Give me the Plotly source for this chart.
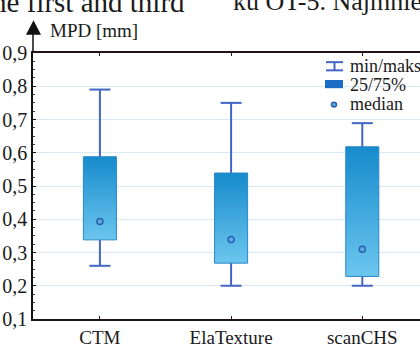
import plotly.graph_objects as go

categories = ["CTM", "ElaTexture", "scanCHS"]
v_min = [0.26, 0.20, 0.20]
v_q1 = [0.338, 0.268, 0.228]
v_med = [0.393, 0.339, 0.31]
v_q3 = [0.588, 0.539, 0.618]
v_max = [0.79, 0.75, 0.689]
y_ticks = [0.1, 0.2, 0.3, 0.4, 0.5, 0.6, 0.7, 0.8, 0.9]
legend_labels = ["min/maks", "25/75%", "median"]

W, H = 420, 348
L, R, T, B = 33, 0, 53, 19
PW, PH = W - L - R, H - T - B
SERIF = "Liberation Serif"

def px(x):
    return (x - L) / PW

def py(y):
    return (H - B - y) / PH

fig = go.Figure()

box_half = 0.126
cap_half = 0.08

# boxes with vertical gradient
for i, c in enumerate(categories):
    xs = [i - box_half, i + box_half, i + box_half, i - box_half, i - box_half]
    ys = [v_q1[i], v_q1[i], v_q3[i], v_q3[i], v_q1[i]]
    fig.add_trace(go.Scatter(
        x=xs, y=ys, mode="lines", fill="toself",
        line=dict(color="#2a88c8", width=1),
        fillgradient=dict(type="vertical",
                          colorscale=[[0, "#6cc6ee"], [1, "#168bcc"]]),
        hoverinfo="skip", showlegend=False))

# whiskers
wx, wy = [], []
for i in range(len(categories)):
    wx += [i, i, None, i - cap_half, i + cap_half, None,
           i, i, None, i - cap_half, i + cap_half, None]
    wy += [v_q3[i], v_max[i], None, v_max[i], v_max[i], None,
           v_q1[i], v_min[i], None, v_min[i], v_min[i], None]
fig.add_trace(go.Scatter(x=wx, y=wy, mode="lines",
                         line=dict(color="#4166c4", width=2),
                         hoverinfo="skip", showlegend=False))

# medians
fig.add_trace(go.Scatter(
    x=list(range(len(categories))), y=v_med, mode="markers",
    marker=dict(symbol="circle", size=6, color="#5aaee4",
                line=dict(color="#2c5eae", width=1.5)),
    showlegend=False))

shapes = []
# y axis extension + arrow
shapes.append(dict(type="line", xref="paper", yref="paper",
                   x0=0, x1=0, y0=1, y1=py(32),
                   line=dict(color="#111", width=1.5)))
shapes.append(dict(type="path", xref="paper", yref="paper",
                   path=f"M {px(26)},{py(34)} L {px(41)},{py(34)} L {px(33.5)},{py(19)} Z",
                   fillcolor="#111", line=dict(width=0)))

# legend glyphs
lc = "#4166c4"
shapes.append(dict(type="line", xref="paper", yref="paper",
                   x0=px(334.5), x1=px(334.5), y0=py(62.5), y1=py(71),
                   line=dict(color=lc, width=2)))
for yy in (62.5, 71):
    shapes.append(dict(type="line", xref="paper", yref="paper",
                       x0=px(326), x1=px(343), y0=py(yy), y1=py(yy),
                       line=dict(color=lc, width=2)))
shapes.append(dict(type="rect", xref="paper", yref="paper",
                   x0=px(325), x1=px(343), y0=py(89.5), y1=py(81),
                   fillcolor="#1b6cc2", line=dict(width=0)))
shapes.append(dict(type="circle", xref="paper", yref="paper",
                   x0=px(331.5), x1=px(336.5), y0=py(109), y1=py(104),
                   fillcolor="#5aaee4", line=dict(color="#2c5eae", width=1.5)))

annotations = []
for lab, yy in zip(legend_labels, [66, 86, 106]):
    annotations.append(dict(text=lab, xref="paper", yref="paper",
                            x=px(348), y=py(yy), xanchor="left", yanchor="middle",
                            showarrow=False, font=dict(family=SERIF, size=18, color="#1a1a1a")))
annotations.append(dict(text="MPD [mm]", xref="paper", yref="paper",
                        x=px(48), y=py(30), xanchor="left", yanchor="middle",
                        showarrow=False, font=dict(family=SERIF, size=19, color="#1a1a1a")))
# cut-off body text from the page above the figure
annotations.append(dict(text="the first and third", xref="paper", yref="paper",
                        x=px(-18), y=py(0), xanchor="left", yanchor="middle",
                        showarrow=False, font=dict(family=SERIF, size=29, color="#1a1a1a")))
annotations.append(dict(text="ku OT-5. Najmniej", xref="paper", yref="paper",
                        x=px(231), y=py(0), xanchor="left", yanchor="middle",
                        showarrow=False, font=dict(family=SERIF, size=26, color="#1a1a1a")))

fig.update_layout(
    width=W, height=H,
    margin=dict(l=L, r=R, t=T, b=B, pad=0),
    paper_bgcolor="white", plot_bgcolor="white",
    separators=", ",
    showlegend=False,
    shapes=shapes, annotations=annotations,
    font=dict(family=SERIF, size=18, color="#1a1a1a"),
)
fig.update_xaxes(
    range=[-0.51, 2.44], tickmode="array",
    tickvals=list(range(len(categories))), ticktext=categories,
    showgrid=False, zeroline=False,
    showline=True, linecolor="#221410", linewidth=1.5, mirror="ticks",
    ticks="inside", ticklen=3, tickcolor="#221410",
    tickfont=dict(family=SERIF, size=19, color="#1a1a1a"),
)
fig.update_yaxes(
    range=[0.1, 0.9], tickvals=y_ticks, tickformat=".1f",
    showgrid=True, gridcolor="#d8e8f5", gridwidth=1, zeroline=False,
    showline=True, linecolor="#111", linewidth=1.5,
    ticks="inside", ticklen=3, tickcolor="#111",
    minor=dict(ticks="inside", ticklen=2, dtick=0.025, tickcolor="#444", showgrid=False),
    tickfont=dict(family=SERIF, size=20, color="#1a1a1a"),
)

fig.write_html("out.html", config={"displayModeBar": False},
               post_script="document.body.style.margin='0';document.body.style.overflow='hidden';")
